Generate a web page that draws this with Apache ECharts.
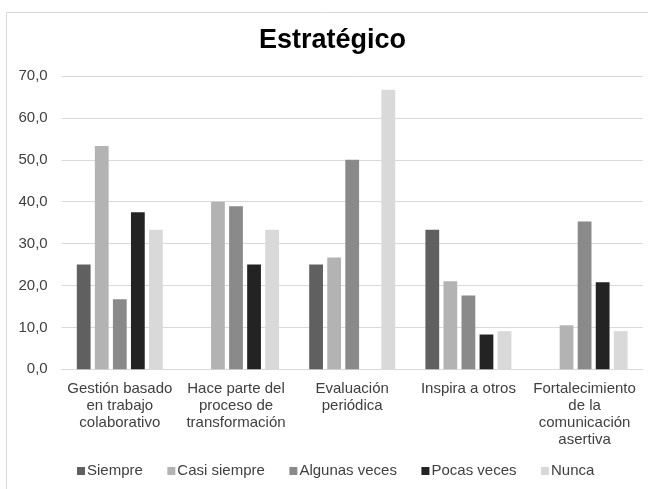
<!DOCTYPE html>
<html>
<head>
<meta charset="utf-8">
<script src="https://cdn.jsdelivr.net/npm/echarts@6/dist/echarts.min.js"></script>
<style>
html,body{margin:0;padding:0;background:#fff;}
#chart{width:648px;height:489px;}
</style>
</head>
<body>
<div id="chart"></div>
<script>
const categories = ["Gestión basado\nen trabajo\ncolaborativo", "Hace parte del\nproceso de\ntransformación", "Evaluación\nperiódica", "Inspira a otros", "Fortalecimiento\nde la\ncomunicación\nasertiva"];
const seriesNames = ["Siempre", "Casi siempre", "Algunas veces", "Pocas veces", "Nunca"];
const siempre = [25.0, 0, 25.0, 33.3, 0];
const casiSiempre = [53.3, 40.0, 26.7, 21.0, 10.5];
const algunasVeces = [16.7, 38.9, 50.0, 17.6, 35.3];
const pocasVeces = [37.5, 25.0, 0, 8.3, 20.8];
const nunca = [33.3, 33.3, 66.7, 9.1, 9.1];
const yTicks = [0, 10, 20, 30, 40, 50, 60, 70];

const colors = ["#606060", "#b3b3b3", "#8a8a8a", "#232323", "#d9d9d9"];
const values = [siempre, casiSiempre, algunasVeces, pocasVeces, nunca];
const FONT = "'Liberation Sans', Arial, sans-serif";

const chart = echarts.init(document.getElementById('chart'), null, {renderer: 'canvas'});
chart.setOption({
  animation: false,
  backgroundColor: '#ffffff',
  title: {
    text: 'Estratégico',
    left: 259, top: 27, padding: 0,
    textStyle: {fontFamily: FONT, fontSize: 27, fontWeight: 'bold', color: '#000000'}
  },
  graphic: [{
    type: 'rect', silent: true, z: -1,
    shape: {x: 6.5, y: 12.5, width: 700, height: 600},
    style: {fill: 'none', stroke: '#d9d9d9', lineWidth: 1}
  }],
  legend: {
    data: seriesNames,
    left: 77, top: 463, padding: 0,
    itemWidth: 8, itemHeight: 8, itemGap: 24.5,
    icon: 'rect',
    textStyle: {fontFamily: FONT, fontSize: 15, color: '#404040', lineHeight: 16, padding: [0, 0, 0, -3]}
  },
  grid: {left: 61.7, right: 5.3, top: 76, bottom: 119.7, containLabel: false},
  xAxis: {
    type: 'category',
    data: categories,
    axisLine: {lineStyle: {color: '#d9d9d9', width: 1}},
    axisTick: {show: false},
    axisLabel: {interval: 0, fontFamily: FONT, fontSize: 15, color: '#404040', lineHeight: 17, margin: 11.5, align: 'center'}
  },
  yAxis: {
    type: 'value',
    min: yTicks[0], max: yTicks[yTicks.length - 1], interval: 10,
    axisLine: {show: false},
    axisTick: {show: false},
    splitLine: {lineStyle: {color: '#d9d9d9', width: 1}},
    axisLabel: {fontFamily: FONT, fontSize: 15, color: '#404040', margin: 14,
      formatter: v => v.toFixed(1).replace('.', ',')}
  },
  series: seriesNames.map((name, i) => ({
    name: name,
    type: 'bar',
    data: values[i],
    barGap: '31%',
    barCategoryGap: '26%',
    itemStyle: {color: colors[i]}
  }))
});
</script>
</body>
</html>
